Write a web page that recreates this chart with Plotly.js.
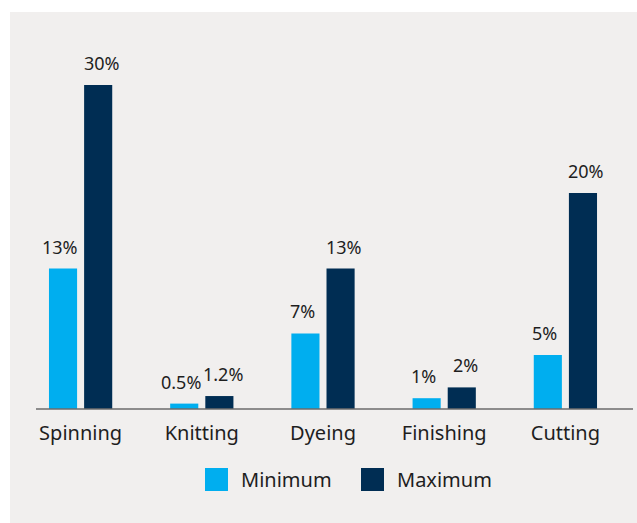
<!DOCTYPE html>
<html>
<head>
<meta charset="utf-8">
<script src="https://cdn.plot.ly/plotly-3.0.1.min.js"></script>
<style>html,body{margin:0;padding:0;background:#fff;}#chart{width:637px;height:523px;}</style>
</head>
<body>
<div id="chart"></div>
<script>
const categories = ["Spinning", "Knitting", "Dyeing", "Finishing", "Cutting"];
const minimumValues = [13, 0.5, 7, 1, 5];
const maximumValues = [30, 1.2, 13, 2, 20];
const minimumLabels = ["13%", "0.5%", "7%", "1%", "5%"];
const maximumLabels = ["30%", "1.2%", "13%", "2%", "20%"];
const seriesNames = ["Minimum", "Maximum"];
const colors = ["#00aeef", "#002d53"];

const FONT = "Noto Sans, Open Sans, sans-serif";
const TEXT = "#1e1e1e";

const traces = [
  {type: "bar", name: seriesNames[0], x: categories, y: minimumValues,
   marker: {color: colors[0]}, showlegend: false, hoverinfo: "none"},
  {type: "bar", name: seriesNames[1], x: categories, y: maximumValues,
   marker: {color: colors[1]}, showlegend: false, hoverinfo: "none"}
];

const annotations = [];
categories.forEach((c, i) => {
  annotations.push({x: c, y: minimumValues[i], xref: "x", yref: "y", text: minimumLabels[i],
    showarrow: false, xanchor: "center", yanchor: "bottom", xshift: -21, yshift: 8,
    font: {family: FONT, size: 18, color: TEXT}});
  annotations.push({x: c, y: maximumValues[i], xref: "x", yref: "y", text: maximumLabels[i],
    showarrow: false, xanchor: "center", yanchor: "bottom", xshift: 21, yshift: 8,
    font: {family: FONT, size: 18, color: TEXT}});
});
// legend labels
annotations.push({x: 0.3614, y: -0.1924, xref: "paper", yref: "paper", text: seriesNames[0],
  showarrow: false, xanchor: "left", yanchor: "middle", font: {family: FONT, size: 20, color: TEXT}});
annotations.push({x: 0.6188, y: -0.1924, xref: "paper", yref: "paper", text: seriesNames[1],
  showarrow: false, xanchor: "left", yanchor: "middle", font: {family: FONT, size: 20, color: TEXT}});

const shapes = [
  {type: "rect", xref: "paper", yref: "paper", x0: -0.0165, x1: 1.05, y0: -0.35, y1: 1.0759,
   fillcolor: "#f1efee", line: {width: 0}, layer: "below"},
  {type: "line", xref: "paper", yref: "paper", x0: 0.0264, x1: 1.0116, y0: 0, y1: 0,
   line: {color: "#6b6b6b", width: 1.5}},
  {type: "rect", xref: "paper", yref: "paper", x0: 0.3053, x1: 0.3432, y0: -0.2222, y1: -0.1599,
   fillcolor: colors[0], line: {width: 0}},
  {type: "rect", xref: "paper", yref: "paper", x0: 0.5627, x1: 0.6007, y0: -0.2222, y1: -0.1599,
   fillcolor: colors[1], line: {width: 0}}
];

const layout = {
  width: 637, height: 523,
  margin: {l: 20, r: 11, t: 40, b: 114},
  paper_bgcolor: "#ffffff",
  plot_bgcolor: "rgba(0,0,0,0)",
  barmode: "group",
  bargap: 0.42,
  bargroupgap: 0.2,
  font: {family: FONT, color: TEXT},
  xaxis: {type: "category", range: [-0.5, 4.5], showgrid: false, zeroline: false, showline: false,
    ticks: "", tickfont: {family: FONT, size: 20, color: TEXT}, ticklabelstandoff: 10, fixedrange: true},
  yaxis: {range: [0, 34.17], visible: false, showgrid: false, zeroline: false, fixedrange: true},
  shapes: shapes,
  annotations: annotations,
  showlegend: false
};

Plotly.newPlot("chart", traces, layout, {displayModeBar: false, staticPlot: true});
</script>
</body>
</html>
